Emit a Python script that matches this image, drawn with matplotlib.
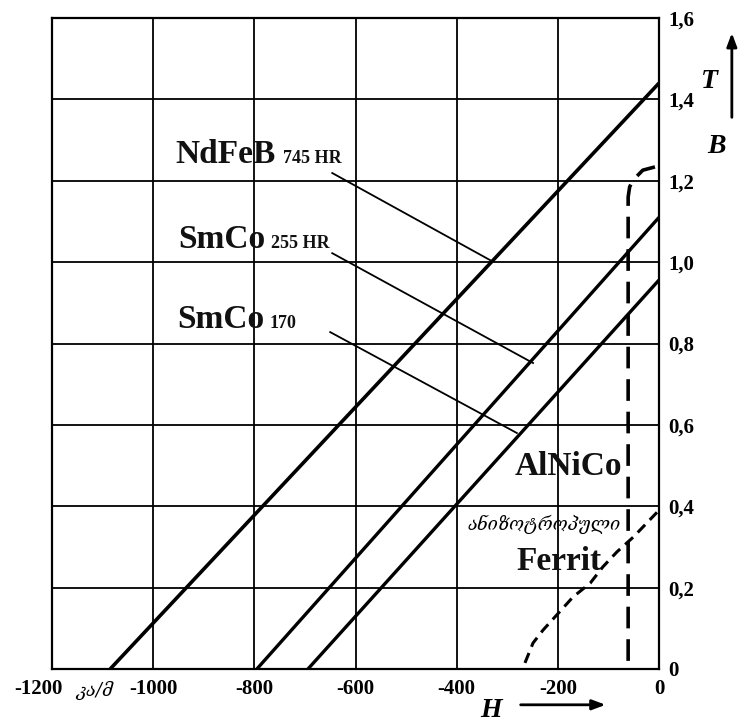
import matplotlib
matplotlib.use("Agg")
import matplotlib.pyplot as plt
import matplotlib.transforms as mtransforms
import numpy as np

plt.rcParams['font.family'] = ['Liberation Serif', 'DejaVu Serif', 'DejaVu Sans']

# straight demagnetisation lines: (H at B=0, B at H=0)
ndfeb_h = [-1085, 0]
ndfeb_b = [0.0, 1.44]
smco255_h = [-795, 0]
smco255_b = [0.0, 1.11]
smco170_h = [-694, 0]
smco170_b = [0.0, 0.956]

# AlNiCo (dashed)
alnico_h = [-61, -61, -58, -51, -32, -8]
alnico_b = [0.02, 1.16, 1.185, 1.202, 1.226, 1.234]

# anisotropic ferrite (dashed)
ferrit_h = [-265, -249, -229, -202, -170, -136, -111, -83, -51, -4]
ferrit_b = [0.015, 0.064, 0.096, 0.133, 0.177, 0.211, 0.251, 0.288, 0.324, 0.385]

# leader lines from labels to curves
lead_ndfeb = ([-646, -334], [1.219, 1.005])
lead_smco255 = ([-646, -249], [1.022, 0.752])
lead_smco170 = ([-650, -281], [0.828, 0.58])

xticks = [-1200, -1000, -800, -600, -400, -200, 0]
yticks = [0, 0.2, 0.4, 0.6, 0.8, 1.0, 1.2, 1.4, 1.6]
ylabels = ['0', '0,2', '0,4', '0,6', '0,8', '1,0', '1,2', '1,4', '1,6']

fig = plt.figure(figsize=(7.44, 7.22), dpi=100)
ax = fig.add_axes([52/744, 53/722, 607/744, 651/722])
ax.set_xlim(-1200, 0)
ax.set_ylim(0, 1.6)

ax.set_xticks(xticks)
ax.set_xticklabels([str(v) for v in xticks])
ax.set_yticks(yticks)
ax.set_yticklabels(ylabels)
ax.yaxis.tick_right()
ax.tick_params(length=0, pad=7, labelsize=15)
for lab in ax.get_xticklabels() + ax.get_yticklabels():
    lab.set_fontweight('bold')
# first x label sits left of the corner in the original
first = ax.get_xticklabels()[0]
first.set_transform(first.get_transform() + mtransforms.ScaledTranslation(-14/100, 0, fig.dpi_scale_trans))
ax.grid(True, color='black', linewidth=1.3)
ax.set_axisbelow(True)
for s in ax.spines.values():
    s.set_linewidth(1.6)

ax.plot(ndfeb_h, ndfeb_b, color='black', lw=2.6, solid_capstyle='butt')
ax.plot(smco255_h, smco255_b, color='black', lw=2.4, solid_capstyle='butt')
ax.plot(smco170_h, smco170_b, color='black', lw=2.4, solid_capstyle='butt')
ax.plot(alnico_h, alnico_b, color='black', lw=2.6, dashes=(6, 3))
ax.plot(ferrit_h, ferrit_b, color='black', lw=2.2, dashes=(3.5, 2.2))

for hx, by in (lead_ndfeb, lead_smco255, lead_smco170):
    ax.plot(hx, by, color='black', lw=1.3)

bold = dict(fontweight='bold', color='#111111', va='baseline', ha='left')
ax.text(-957, 1.244, 'NdFeB', fontsize=24, **bold)
ax.text(-743, 1.244, '745 HR', fontsize=13, **bold)
ax.text(-951, 1.035, 'SmCo', fontsize=24, **bold)
ax.text(-767, 1.035, '255 HR', fontsize=13, **bold)
ax.text(-953, 0.838, 'SmCo', fontsize=24, **bold)
ax.text(-769, 0.838, '170', fontsize=13, **bold)
ax.text(-285, 0.477, 'AlNiCo', fontsize=24, **bold)
ax.text(-281, 0.243, 'Ferrit', fontsize=24, **bold)
ax.text(-379, 0.342, 'ანიზოტროპული', fontsize=13, style='italic',
        family=['DejaVu Serif', 'DejaVu Sans'], va='baseline', ha='left')
ax.text(-1115, -0.052, 'კა/მ', fontsize=13, style='italic',
        family=['DejaVu Serif', 'DejaVu Sans'], ha='center', va='center', clip_on=False)

# axis symbols with arrows
ax.text(-354, -0.071, 'H', fontsize=20, style='italic', fontweight='bold',
        ha='left', va='top', clip_on=False)
ax.annotate('', xy=(-100, -0.088), xytext=(-279, -0.088), annotation_clip=False,
            arrowprops=dict(arrowstyle='-|>,head_length=0.8,head_width=0.3', color='black', lw=2))
ax.text(99, 1.445, 'T', fontsize=20, style='italic', fontweight='bold',
        ha='center', va='center', clip_on=False)
ax.text(113, 1.283, 'B', fontsize=20, style='italic', fontweight='bold',
        ha='center', va='center', clip_on=False)
ax.annotate('', xy=(144, 1.57), xytext=(144, 1.349), annotation_clip=False,
            arrowprops=dict(arrowstyle='-|>,head_length=0.8,head_width=0.3', color='black', lw=2))

fig.savefig('out.png', dpi=100)
